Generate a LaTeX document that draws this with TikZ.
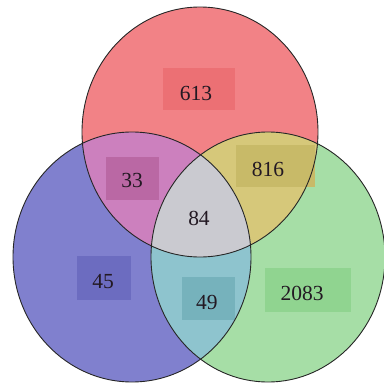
\documentclass[tikz,border=0pt]{standalone}
\usepackage{fontspec}
\setmainfont{Liberation Serif}
\definecolor{cR}{RGB}{242,130,134}
\definecolor{cB}{RGB}{128,128,206}
\definecolor{cG}{RGB}{166,222,166}
\definecolor{cRB}{RGB}{204,128,190}
\definecolor{cRG}{RGB}{214,200,122}
\definecolor{cBG}{RGB}{142,196,206}
\definecolor{cC}{RGB}{202,202,208}
\definecolor{bR}{RGB}{236,112,116}
\definecolor{bB}{RGB}{108,108,192}
\definecolor{bG}{RGB}{144,212,144}
\definecolor{bRB}{RGB}{186,104,164}
\definecolor{bRG}{RGB}{200,186,104}
\definecolor{bBG}{RGB}{118,178,188}
\definecolor{txt}{RGB}{35,25,35}
\tikzset{
  num/.style={text=txt, inner sep=0pt, font=\fontsize{21.5}{24}\selectfont},
  rim/.style={draw=black!85, line width=0.9pt}
}
\begin{document}
\begin{tikzpicture}[x=1pt,y=-1pt]
\useasboundingbox (0,0) rectangle (384,383);
% single regions
\fill[cR] (200,132) ellipse [x radius=118, y radius=125];
\fill[cB] (132,257) ellipse [x radius=119, y radius=125];
\fill[cG] (268,257) ellipse [x radius=117, y radius=125];
% pairwise overlaps
\begin{scope}
  \clip (200,132) ellipse [x radius=118, y radius=125];
  \fill[cRB] (132,257) ellipse [x radius=119, y radius=125];
  \fill[cRG] (268,257) ellipse [x radius=117, y radius=125];
\end{scope}
\begin{scope}
  \clip (132,257) ellipse [x radius=119, y radius=125];
  \fill[cBG] (268,257) ellipse [x radius=117, y radius=125];
  \clip (200,132) ellipse [x radius=118, y radius=125];
  \fill[cC] (268,257) ellipse [x radius=117, y radius=125];
\end{scope}
% label boxes
\fill[bR] (163,68) rectangle (235,110);
\fill[bRB] (106,157) rectangle (159,200);
\fill[bRG] (236,145) rectangle (315,187);
\fill[bB] (77,256) rectangle (131,300);
\fill[bBG] (182,277) rectangle (235,320);
\fill[bG] (265,268) rectangle (351,312);
% outlines
\draw[rim] (200,132) ellipse [x radius=118, y radius=125];
\draw[rim] (132,257) ellipse [x radius=119, y radius=125];
\draw[rim] (268,257) ellipse [x radius=117, y radius=125];
% numbers
\node[num] (n613) at (196,93) {613};
\node[num] (n33) at (132,180) {33};
\node[num] (n816) at (268,169) {816};
\node[num] (n84) at (199,218) {84};
\node[num] (n45) at (103,282) {45};
\node[num] (n49) at (207,302) {49};
\node[num] (n2083) at (302,293) {2083};
\end{tikzpicture}
\end{document}
